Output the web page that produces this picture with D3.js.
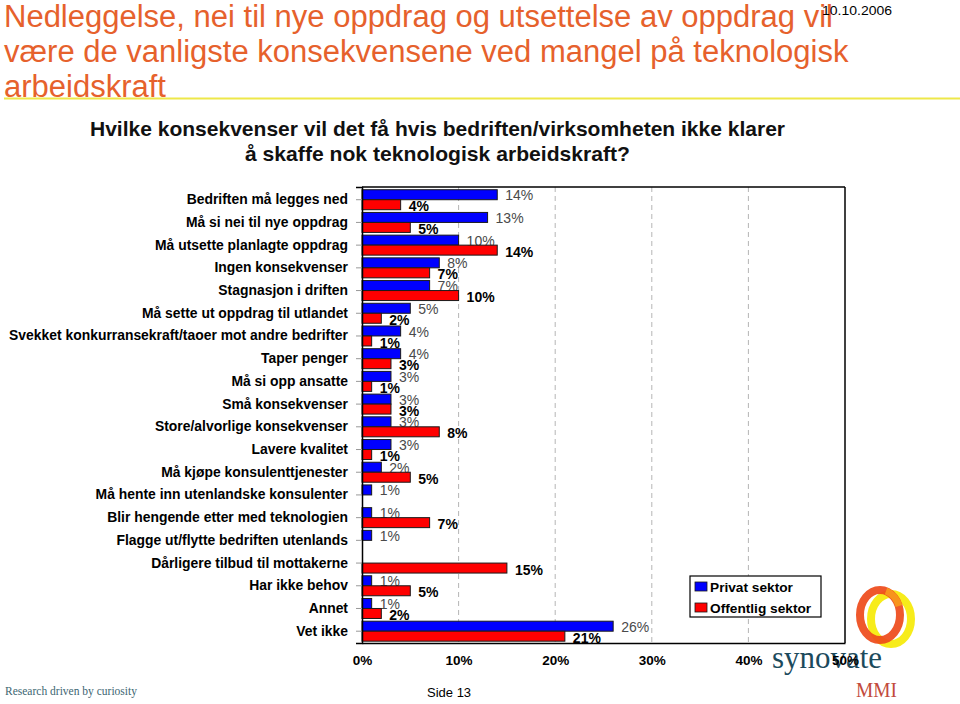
<!DOCTYPE html>
<html><head><meta charset="utf-8">
<script src="https://cdn.jsdelivr.net/npm/d3@7"></script>
<style>
html,body{margin:0;padding:0;background:#fff;}
svg{display:block;}
</style></head>
<body><svg id="chart" width="960" height="704"></svg>
<script>
const titleLines = ["Nedleggelse, nei til nye oppdrag og utsettelse av oppdrag vil",
  "være de vanligste konsekvensene ved mangel på teknologisk",
  "arbeidskraft"];
const subtitleLines = ["Hvilke konsekvenser vil det få hvis bedriften/virksomheten ikke klarer",
  "å skaffe nok teknologisk arbeidskraft?"];
const categories = ["Bedriften må legges ned","Må si nei til nye oppdrag","Må utsette planlagte oppdrag",
  "Ingen konsekvenser","Stagnasjon i driften","Må sette ut oppdrag til utlandet",
  "Svekket konkurransekraft/taoer mot andre bedrifter","Taper penger","Må si opp ansatte",
  "Små konsekvenser","Store/alvorlige konsekvenser","Lavere kvalitet","Må kjøpe konsulenttjenester",
  "Må hente inn utenlandske konsulenter","Blir hengende etter med teknologien",
  "Flagge ut/flytte bedriften utenlands","Dårligere tilbud til mottakerne","Har ikke behov","Annet","Vet ikke"];
const privat =    [14,13,10,8,7,5,4,4,3,3,3,3,2,1,1,1,null,1,1,26];
const offentlig = [4,5,14,7,10,2,1,3,1,3,8,1,5,null,7,null,15,5,2,21];
const seriesNames = ["Privat sektor","Offentlig sektor"];
const xTicks = [0,10,20,30,40,50];

const svg = d3.select("#chart");
const SANS = "'Liberation Sans', Arial, Helvetica, sans-serif";
const SERIF = "'Liberation Serif', 'Times New Roman', serif";
const colors = ["#0000FF","#FF0000"];

// header
svg.append("line").attr("x1",4).attr("x2",960).attr("y1",98.5).attr("y2",98.5)
  .attr("stroke","#eee84a").attr("stroke-width",2.2);
svg.selectAll("text.title").data(titleLines).join("text").attr("class","title")
  .attr("x",4).attr("y",(d,i)=>27+i*35).attr("font-family",SANS).attr("font-size",31)
  .attr("fill","#E6612C").text(d=>d);
svg.append("text").attr("x",822).attr("y",15).attr("font-family",SANS).attr("font-size",12)
  .attr("textLength",70).attr("lengthAdjust","spacingAndGlyphs").attr("fill","#000").text("10.10.2006");
const subLen = [695, 385];
svg.selectAll("text.sub").data(subtitleLines).join("text").attr("class","sub")
  .attr("x",437.5).attr("y",(d,i)=>136+i*25).attr("text-anchor","middle")
  .attr("textLength",(d,i)=>subLen[i]).attr("lengthAdjust","spacingAndGlyphs")
  .attr("font-family",SANS).attr("font-size",20.5).attr("font-weight","bold").attr("fill","#111").text(d=>d);

// scales
const x = d3.scaleLinear().domain([0,50]).range([362,845]);
const y0 = d3.scaleBand().domain(categories).range([187,643]).paddingInner(0.12).paddingOuter(0.1).align(0.6);
const y1 = d3.scaleBand().domain(seriesNames).range([0,y0.bandwidth()]);

const g = svg.append("g");
// gridlines
g.selectAll("line.grid").data(xTicks.filter(t=>t>0&&t<50)).join("line").attr("class","grid")
  .attr("x1",d=>x(d)).attr("x2",d=>x(d)).attr("y1",187).attr("y2",643)
  .attr("stroke","#b5b5b5").attr("stroke-dasharray","5,4").attr("stroke-width",1);

// logo (behind axis labels)
const logo = svg.append("g");
logo.append("ellipse").attr("cx",891).attr("cy",619).attr("rx",20).attr("ry",25)
  .attr("fill","none").attr("stroke","#f7ec1a").attr("stroke-width",8);
logo.append("ellipse").attr("cx",880).attr("cy",615).attr("rx",20).attr("ry",25)
  .attr("fill","none").attr("stroke","#ee4a1a").attr("stroke-width",8).attr("opacity",0.92);
logo.append("path").attr("d","M 886 591 A 20 25 0 0 1 899 606").attr("fill","none")
  .attr("stroke","#f7941d").attr("stroke-width",7);
logo.append("text").attr("x",772).attr("y",668).attr("font-family",SERIF).attr("font-size",31)
  .attr("textLength",110).attr("lengthAdjust","spacingAndGlyphs").attr("fill","#1c4a5c").text("synovate");
logo.append("text").attr("x",856).attr("y",697).attr("font-family",SERIF).attr("font-size",20)
  .attr("textLength",41).attr("lengthAdjust","spacingAndGlyphs").attr("fill","#c24a3c").text("MMI");

const rows = categories.map((c,i)=>({c, p:privat[i], o:offentlig[i]}));
const bh = y1.bandwidth();

// blue bars
g.selectAll("rect.priv").data(rows.filter(d=>d.p!=null)).join("rect").attr("class","priv")
  .attr("x",x(0)).attr("y",d=>y0(d.c)+y1(seriesNames[0])).attr("width",d=>x(d.p)-x(0)).attr("height",bh)
  .attr("fill",colors[0]).attr("stroke","#1a1a1a").attr("stroke-width",1);
g.selectAll("text.plab").data(rows.filter(d=>d.p!=null)).join("text").attr("class","plab")
  .attr("x",d=>x(d.p)+8).attr("y",d=>y0(d.c)+y1(seriesNames[0])+bh/2+0.5).attr("dy","0.36em")
  .attr("font-family",SANS).attr("font-size",14).attr("fill","#4a4a4a").text(d=>d.p+"%");
// red bars
g.selectAll("rect.off").data(rows.filter(d=>d.o!=null)).join("rect").attr("class","off")
  .attr("x",x(0)).attr("y",d=>y0(d.c)+y1(seriesNames[1])).attr("width",d=>x(d.o)-x(0)).attr("height",bh)
  .attr("fill",colors[1]).attr("stroke","#1a1a1a").attr("stroke-width",1);
g.selectAll("text.olab").data(rows.filter(d=>d.o!=null)).join("text").attr("class","olab")
  .attr("x",d=>x(d.o)+8).attr("y",d=>y0(d.c)+y1(seriesNames[1])+bh/2+1.5).attr("dy","0.36em")
  .attr("font-family",SANS).attr("font-size",14).attr("font-weight","bold").attr("fill","#000").text(d=>d.o+"%");

// plot frame
g.append("line").attr("x1",362).attr("x2",845).attr("y1",187).attr("y2",187).attr("stroke","#000").attr("stroke-width",1.5);
g.append("line").attr("x1",845).attr("x2",845).attr("y1",187).attr("y2",643).attr("stroke","#000").attr("stroke-width",1.5);

// y axis
const yAxis = svg.append("g").attr("transform","translate(362,0)")
  .call(d3.axisLeft(y0).tickSize(6).tickPadding(8));
yAxis.select(".domain").attr("stroke","#000").attr("stroke-width",1.5);
yAxis.selectAll(".tick line").attr("stroke","#999");
yAxis.selectAll(".tick text").attr("font-family",SANS).attr("font-size",13.9).attr("font-weight","bold").attr("fill","#000");

// x axis
const xAxis = svg.append("g").attr("transform","translate(0,643)")
  .call(d3.axisBottom(x).tickValues(xTicks).tickFormat(d=>d+"%").tickSize(0).tickPadding(12));
xAxis.select(".domain").attr("stroke","#000").attr("stroke-width",1.5);
xAxis.selectAll(".tick text").attr("font-family",SANS).attr("font-size",13.5).attr("font-weight","bold").attr("fill","#000");

// legend
const lg = svg.append("g");
lg.append("rect").attr("x",690).attr("y",576).attr("width",131).attr("height",41)
  .attr("fill","#fff").attr("stroke","#000").attr("stroke-width",1.2);
const li = lg.selectAll("g.li").data(seriesNames).join("g").attr("class","li")
  .attr("transform",(d,i)=>`translate(695,${582+i*21})`);
li.append("rect").attr("width",12).attr("height",9).attr("fill",(d,i)=>colors[i]).attr("stroke","#1a1a1a").attr("stroke-width",0.8);
li.append("text").attr("x",15).attr("y",9.5).attr("font-family",SANS).attr("font-size",13.7)
  .attr("font-weight","bold").attr("fill","#000").text(d=>d);

// footer
svg.append("text").attr("x",5).attr("y",695).attr("font-family",SERIF).attr("font-size",12)
  .attr("textLength",132).attr("lengthAdjust","spacingAndGlyphs").attr("fill","#3d6672").text("Research driven by curiosity");
svg.append("text").attr("x",427).attr("y",697).attr("font-family",SANS).attr("font-size",13)
  .attr("fill","#000").text("Side 13");
</script></body></html>
